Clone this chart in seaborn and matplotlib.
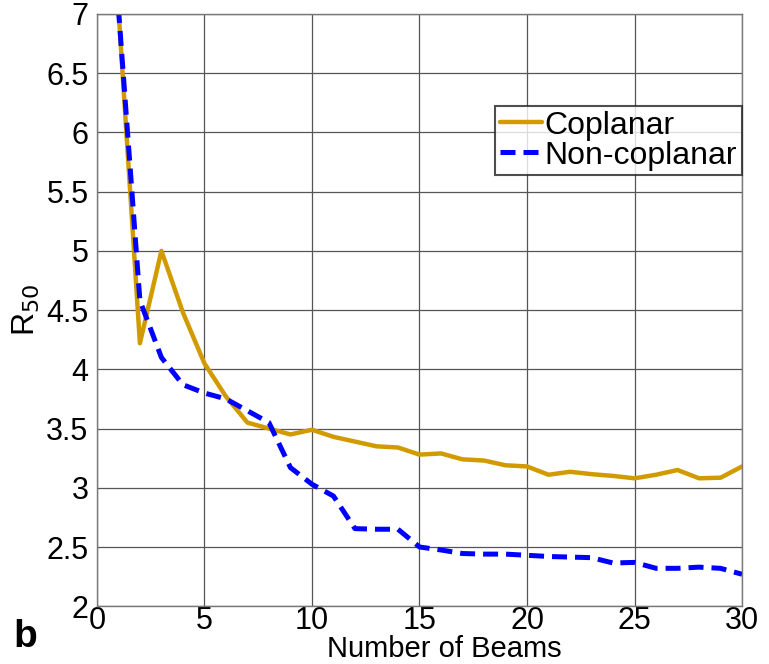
import matplotlib
matplotlib.use("Agg")
import matplotlib.pyplot as plt
import seaborn as sns
import pandas as pd

beams = list(range(1, 31))
coplanar = [7.05, 4.22, 5.0, 4.48, 4.05, 3.77, 3.55, 3.50, 3.45, 3.49,
            3.43, 3.39, 3.35, 3.34, 3.28, 3.29, 3.24, 3.23, 3.19, 3.18,
            3.11, 3.135, 3.115, 3.10, 3.08, 3.11, 3.15, 3.08, 3.085, 3.18]
noncoplanar = [7.05, 4.58, 4.10, 3.87, 3.80, 3.75, 3.65, 3.55, 3.17, 3.03,
               2.93, 2.655, 2.65, 2.65, 2.50, 2.475, 2.445, 2.44, 2.44, 2.43,
               2.42, 2.415, 2.41, 2.365, 2.37, 2.32, 2.32, 2.33, 2.32, 2.27]

df = pd.DataFrame({'Beams': beams, 'Coplanar': coplanar, 'Non-coplanar': noncoplanar})

sns.set_style('white')
plt.rcParams['font.family'] = ['Liberation Sans', 'DejaVu Sans']
plt.rcParams['text.color'] = 'black'
plt.rcParams['xtick.color'] = 'black'
plt.rcParams['ytick.color'] = 'black'
plt.rcParams['axes.labelcolor'] = 'black'

fig = plt.figure(figsize=(7.69, 6.64), dpi=100)
ax = fig.add_axes([0.126, 0.087, 0.839, 0.892])

sns.lineplot(data=df, x='Beams', y='Coplanar', ax=ax, color='#D19B00', lw=3.2,
             label='Coplanar')
sns.lineplot(data=df, x='Beams', y='Non-coplanar', ax=ax, color='#0000FF', lw=3.6,
             linestyle=(0, (3, 1.6)), label='Non-coplanar')

ax.set_xlim(0, 30)
ax.set_ylim(2, 7)
ax.set_xticks(range(0, 31, 5))
ax.set_yticks([2, 2.5, 3, 3.5, 4, 4.5, 5, 5.5, 6, 6.5, 7])
ax.set_yticklabels(['2', '2.5', '3', '3.5', '4', '4.5', '5', '5.5', '6', '6.5', '7'])
ax.tick_params(labelsize=22, length=0)
ax.tick_params(axis='x', pad=0)
ax.tick_params(axis='y', pad=6)
ax.grid(True, color='#555555', lw=0.9)
for s in ax.spines.values():
    s.set_color('#777777')
    s.set_linewidth(1)

ax.set_xlabel('Number of Beams', fontsize=21)
ax.xaxis.set_label_coords(0.538, -0.049)
ax.set_ylabel(r'R$_{50}$', fontsize=23)
ax.yaxis.set_label_coords(-0.085, 0.5)

leg = ax.legend(loc='upper right', bbox_to_anchor=(1.0, 0.845), fontsize=23,
                frameon=True, fancybox=False, handlelength=1.3, handletextpad=0.1,
                borderpad=0.15, labelspacing=0.0, borderaxespad=0)
leg.get_frame().set_edgecolor('#222222')
leg.get_frame().set_linewidth(1.5)

fig.text(0.018, 0.025, 'b', fontsize=28, fontweight='bold')

fig.savefig('out.png', dpi=100)
